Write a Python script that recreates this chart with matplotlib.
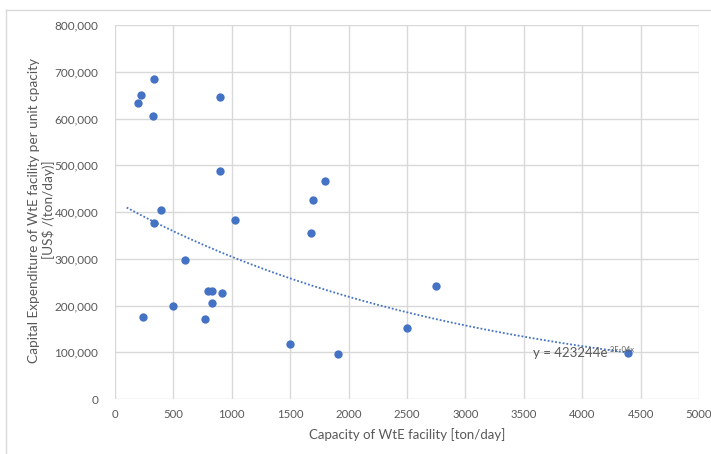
import numpy as np
import matplotlib.pyplot as plt
from matplotlib.lines import Line2D

# capacity [ton/day] and capex per unit capacity [US$/(ton/day)]
capacity = [336, 225, 197, 328, 899, 899, 1798, 1698, 396, 334, 1030, 1675,
            599, 799, 828, 919, 828, 499, 237, 768, 1498, 2748, 2497, 1907, 4395]
capex = [684000, 651000, 633000, 605000, 645000, 488000, 466000, 425000, 404000,
         376000, 383000, 356000, 297000, 230000, 230000, 227000, 206000, 198000,
         176000, 171000, 118000, 242000, 152000, 97000, 98000]

# exponential trendline y = a*exp(-b*x)
trend_a = 423244
trend_b = 3.3e-4
trend_x0, trend_x1 = 100, 4400

xticks = [0, 500, 1000, 1500, 2000, 2500, 3000, 3500, 4000, 4500, 5000]
yticks = [0, 100000, 200000, 300000, 400000, 500000, 600000, 700000, 800000]

plt.rcParams['font.family'] = ['Lato', 'DejaVu Sans']
grey = '#595959'

fig = plt.figure(figsize=(7.11, 4.54), dpi=100)
ax = fig.add_axes([115/711, 1-399/454, 584/711, 374/454])

# chart border (Excel chart area)
fig.add_artist(Line2D([6/711, 6/711], [0, 1-10/454], color='#d9d9d9', lw=1))
fig.add_artist(Line2D([6/711, 1], [1-10/454, 1-10/454], color='#d9d9d9', lw=1))

tx = np.linspace(trend_x0, trend_x1, 200)
ax.plot(tx, trend_a*np.exp(-trend_b*tx), color='#4472C4', lw=1.3, ls=(0, (1, 1.1)), zorder=2)
ax.scatter(capacity, capex, s=36, color='#4472C4', zorder=3, linewidths=0)

eq = ax.text(3575, 99000, 'y = 423244e', color=grey, fontsize=9.5, va='center', ha='left')
ax.annotate('-3E-04x', xy=(1, 0.75), xycoords=eq, color=grey, fontsize=5.5,
            va='center', ha='left')

ax.set_xlim(0, 5000)
ax.set_ylim(0, 800000)
ax.set_xticks(xticks)
ax.set_yticks(yticks)
ax.set_yticklabels(['{:,}'.format(v) for v in yticks])
ax.grid(True, color='#d9d9d9', lw=1)
ax.set_axisbelow(True)
for s in ax.spines.values():
    s.set_visible(False)
ax.tick_params(length=0, colors=grey, labelsize=8.5)
ax.tick_params(axis='x', pad=7, labelsize=8.2)
ax.tick_params(axis='y', pad=12)

ax.set_xlabel('Capacity of WtE facility [ton/day]', color=grey, fontsize=9.5, labelpad=6)
ax.set_ylabel('Capital Expenditure of WtE facility per unit cpacity\n[US$ /(ton/day)]',
              color=grey, fontsize=9.8, linespacing=1.25)
ax.yaxis.set_label_coords(-0.102, 0.505)

fig.savefig('out.png', dpi=100)
